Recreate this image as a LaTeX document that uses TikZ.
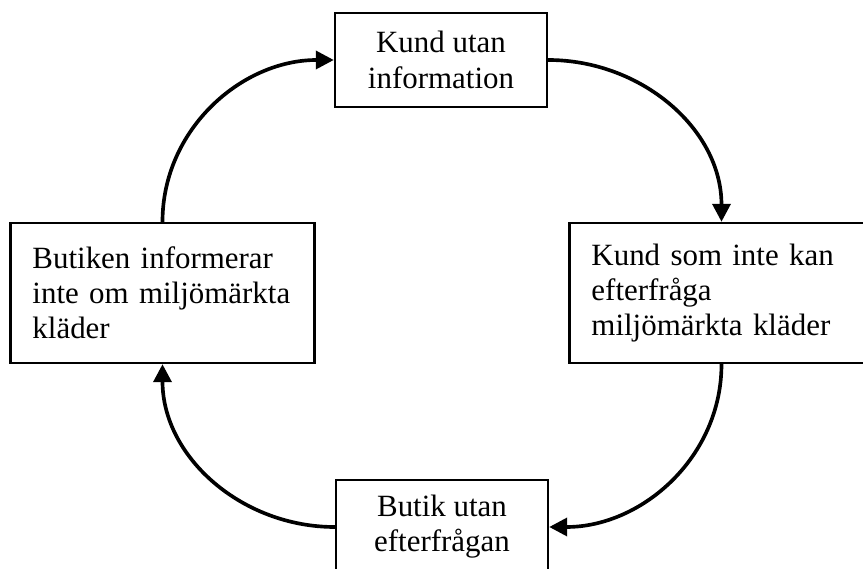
\documentclass[tikz,border=0pt]{standalone}
\usepackage{fontspec}
\setmainfont{Liberation Serif}
\usetikzlibrary{arrows.meta}

\begin{document}
\begin{tikzpicture}[x=0.025cm, y=-0.025cm,
  box/.style={draw, line width=1.7pt, font=\fontsize{22}{25}\selectfont},
  smallbox/.style={box, align=center, minimum width=5.3cm, minimum height=2.35cm},
  widebox/.style={box, align=left, text width=6.5cm, inner xsep=0.55cm, minimum height=3.5cm},
  cycle arrow/.style={line width=2.6pt, -{Triangle[length=0.45cm, width=0.45cm]}}]

\clip (0,0) rectangle (863,569);

\node[smallbox](kund) at (441,60) {Kund utan\\information};
\node[widebox](kundsom) at (721.5,293) {Kund som inte kan\\efterfråga\\miljömärkta kläder};
\node[smallbox](butik) at (442,527) {Butik utan\\efterfrågan};
\node[widebox](butiken) at (162.5,293) {Butiken informerar\\inte om miljömärkta\\kläder};

\draw[cycle arrow] (butiken.north) to[out=90, in=180] (kund.west);
\draw[cycle arrow] (kund.east) to[out=0, in=90] (kundsom.north);
\draw[cycle arrow] (kundsom.south) to[out=-90, in=0] (butik.east);
\draw[cycle arrow] (butik.west) to[out=180, in=-90] (butiken.south);

\end{tikzpicture}
\end{document}
